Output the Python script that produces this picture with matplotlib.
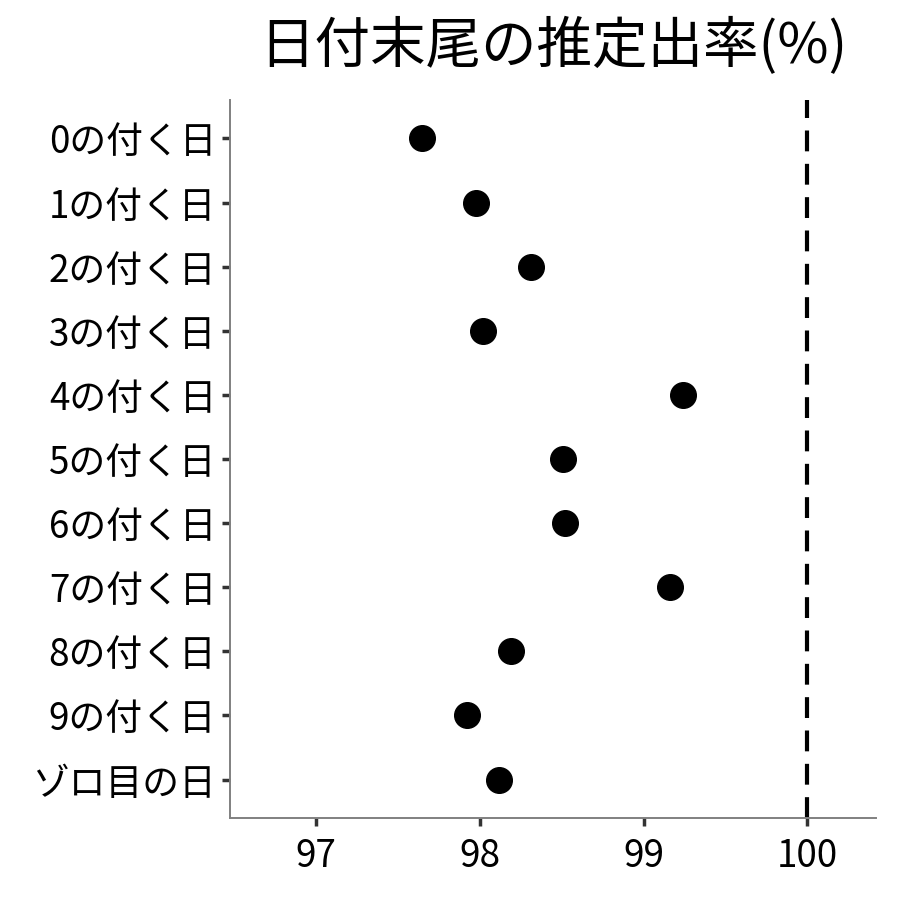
import matplotlib
matplotlib.use("Agg")
import matplotlib.pyplot as plt

plt.rcParams['font.family'] = ['Noto Sans CJK JP', 'DejaVu Sans']

labels = ["0の付く日", "1の付く日", "2の付く日", "3の付く日", "4の付く日",
          "5の付く日", "6の付く日", "7の付く日", "8の付く日", "9の付く日", "ゾロ目の日"]
rates = [97.65, 97.98, 98.31, 98.02, 99.24, 98.51, 98.52, 99.16, 98.19, 97.92, 98.12]
xticks = [97, 98, 99, 100]

fig = plt.figure(figsize=(9, 9), dpi=100)
ax = fig.add_axes([0.2556, 0.0911, 0.7178, 0.7978])

ypos = list(range(len(labels)))[::-1]
ax.scatter(rates, ypos, s=340, color="black", zorder=3)
ax.axvline(100, color="black", linestyle=(0, (5, 3)), linewidth=3)

ax.set_xlim(96.475, 100.42)
ax.set_ylim(-0.6, len(labels) - 1 + 0.6)
ax.set_xticks(xticks)
ax.set_xticklabels([str(t) for t in xticks])
ax.set_yticks(ypos)
ax.set_yticklabels(labels)

for s in ["top", "right"]:
    ax.spines[s].set_visible(False)
for s in ["left", "bottom"]:
    ax.spines[s].set_color("#808080")
    ax.spines[s].set_linewidth(1.4)
ax.tick_params(axis="both", length=6, width=2.5, color="#333333", labelsize=26.5,
               labelcolor="black", pad=4)
ax.tick_params(axis="x", pad=8)

fig.text(0.615, 0.948, "日付末尾の推定出率(%)", fontsize=40, ha="center", va="center")

fig.savefig("out.png", dpi=100, facecolor="white")
